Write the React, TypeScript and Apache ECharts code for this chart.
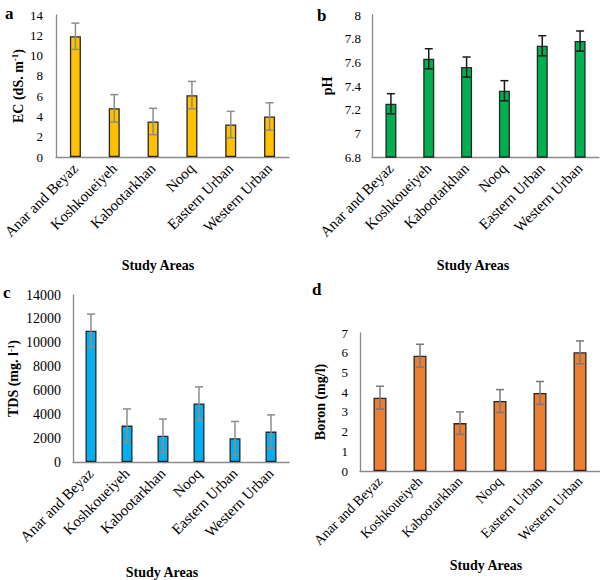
import React, { useEffect, useRef } from "react";
import * as echarts from "echarts";

const categories = ["Anar and Beyaz", "Koshkoueiyeh", "Kabootarkhan", "Nooq", "Eastern Urban", "Western Urban"];

const ecValues = [11.9, 4.8, 3.5, 6.1, 3.2, 4.0];
const ecErrors = [1.3, 1.35, 1.3, 1.35, 1.3, 1.35];

const phValues = [7.25, 7.63, 7.56, 7.36, 7.74, 7.78];
const phErrors = [0.085, 0.085, 0.085, 0.085, 0.085, 0.085];

const tdsValues = [11000, 3050, 2200, 4900, 2000, 2550];
const tdsErrors = [1400, 1400, 1400, 1400, 1400, 1400];

const boronValues = [3.72, 5.85, 2.43, 3.55, 3.96, 6.02];
const boronErrors = [0.58, 0.58, 0.57, 0.58, 0.58, 0.58];

const ecTicks = { min: 0, max: 14, interval: 2 };
const phTicks = { min: 6.8, max: 8, interval: 0.2 };
const tdsTicks = { min: 0, max: 14000, interval: 2000 };
const boronTicks = { min: 0, max: 7, interval: 1 };

const FONT = "Liberation Serif";

export default function App() {
  const ref = useRef<HTMLDivElement>(null);
  useEffect(() => {
    document.body.style.margin = "0";
    if (!ref.current) return;
    const chart = echarts.init(ref.current, null, { renderer: "svg" });

    const grids = [
      { left: 52, top: 15, width: 237, height: 142 },
      { left: 372, top: 15, width: 227, height: 142 },
      { left: 73, top: 295, width: 216, height: 167 },
      { left: 360, top: 333, width: 240, height: 138 },
    ];

    const panels = [
      { values: ecValues, errors: ecErrors, ticks: ecTicks, color: "#FFC000", errColor: "#8c8c8c", barWidth: 11,
        name: "{b|EC (dS. m}{s|-1}{b|)}", nameGap: 30, labelMargin: 13, fs: 13, cfs: 15, cm: 9 },
      { values: phValues, errors: phErrors, ticks: phTicks, color: "#00B050", errColor: "#1a1a1a", barWidth: 11,
        name: "{b|pH}", nameGap: 38, labelMargin: 11, fs: 13, cfs: 15, cm: 9 },
      { values: tdsValues, errors: tdsErrors, ticks: tdsTicks, color: "#00B0F0", errColor: "#8c8c8c", barWidth: 11,
        name: "{b|TDS (mg. l}{s|-1}{b|)}", nameGap: 52, labelMargin: 12, fs: 14, cfs: 15, cm: 9 },
      { values: boronValues, errors: boronErrors, ticks: boronTicks, color: "#ED7D31", errColor: "#7a7a7a", barWidth: 13,
        name: "{b|Boron (mg/l)}", nameGap: 33, labelMargin: 12, fs: 13, cfs: 14, cm: 8 },
    ];

    const axisLine = { show: true, lineStyle: { color: "#8a8a8a", width: 1.3 } };

    const xAxis = panels.map((p, i) => ({
      type: "category",
      gridIndex: i,
      data: categories,
      axisLine,
      axisTick: { show: false },
      axisLabel: { rotate: 45, interval: 0, fontFamily: FONT, fontSize: p.cfs, color: "#000", margin: p.cm },
    }));

    const yAxis = panels.map((p, i) => ({
      type: "value",
      gridIndex: i,
      min: p.ticks.min,
      max: p.ticks.max,
      interval: p.ticks.interval,
      axisLine,
      axisTick: { show: false },
      splitLine: { show: false },
      axisLabel: {
        fontFamily: FONT, fontSize: p.fs, color: "#000", margin: p.labelMargin,
        formatter: (v: number) => String(Math.round(v * 1000) / 1000),
      },
      name: p.name,
      nameLocation: "middle",
      nameGap: p.nameGap,
      nameTextStyle: {
        rich: {
          b: { fontFamily: FONT, fontSize: 14, fontWeight: "bold", color: "#000" },
          s: { fontFamily: FONT, fontSize: 9, fontWeight: "bold", color: "#000", verticalAlign: "top", padding: [0, 0, 6, 0] },
        },
      },
    }));

    const series: any[] = [];
    panels.forEach((p, i) => {
      series.push({
        type: "bar",
        xAxisIndex: i,
        yAxisIndex: i,
        data: p.values,
        barWidth: p.barWidth,
        itemStyle: { color: p.color, borderColor: "#262626", borderWidth: 1.3 },
        z: 2,
      });
      series.push({
        type: "custom",
        xAxisIndex: i,
        yAxisIndex: i,
        z: 5,
        data: p.values.map((v, k) => [k, v, p.errors[k]]),
        encode: { x: 0, y: 1 },
        renderItem: (params: any, api: any) => {
          const x = api.value(0);
          const v = api.value(1);
          const e = api.value(2);
          const top = api.coord([x, v + e]);
          const bot = api.coord([x, v - e]);
          const hw = 4;
          const style = { stroke: p.errColor, lineWidth: 1.5 };
          return {
            type: "group",
            children: [
              { type: "line", shape: { x1: top[0], y1: top[1], x2: bot[0], y2: bot[1] }, style },
              { type: "line", shape: { x1: top[0] - hw, y1: top[1], x2: top[0] + hw, y2: top[1] }, style },
              { type: "line", shape: { x1: bot[0] - hw, y1: bot[1], x2: bot[0] + hw, y2: bot[1] }, style },
            ],
          };
        },
      });
    });

    const titleStyle = { fontFamily: FONT, fontSize: 14, fontWeight: "bold", fill: "#000" };
    const letterStyle = { fontFamily: FONT, fontSize: 17, fontWeight: "bold", fill: "#000" };

    chart.setOption({
      animation: false,
      backgroundColor: "#fff",
      grid: grids,
      xAxis,
      yAxis,
      series,
      graphic: [
        { type: "text", left: 5, top: 5, style: { text: "a", ...letterStyle } },
        { type: "text", left: 317, top: 7, style: { text: "b", ...letterStyle } },
        { type: "text", left: 3, top: 284, style: { text: "c", ...letterStyle } },
        { type: "text", left: 312, top: 281, style: { text: "d", ...letterStyle } },
        { type: "text", x: 158, y: 265, style: { text: "Study Areas", align: "center", verticalAlign: "middle", ...titleStyle } },
        { type: "text", x: 473, y: 265, style: { text: "Study Areas", align: "center", verticalAlign: "middle", ...titleStyle } },
        { type: "text", x: 162, y: 572, style: { text: "Study Areas", align: "center", verticalAlign: "middle", ...titleStyle } },
        { type: "text", x: 486, y: 565, style: { text: "Study Areas", align: "center", verticalAlign: "middle", ...titleStyle } },
      ],
    });
    return () => chart.dispose();
  }, []);
  return <div ref={ref} style={{ width: 600, height: 580 }} />;
}
